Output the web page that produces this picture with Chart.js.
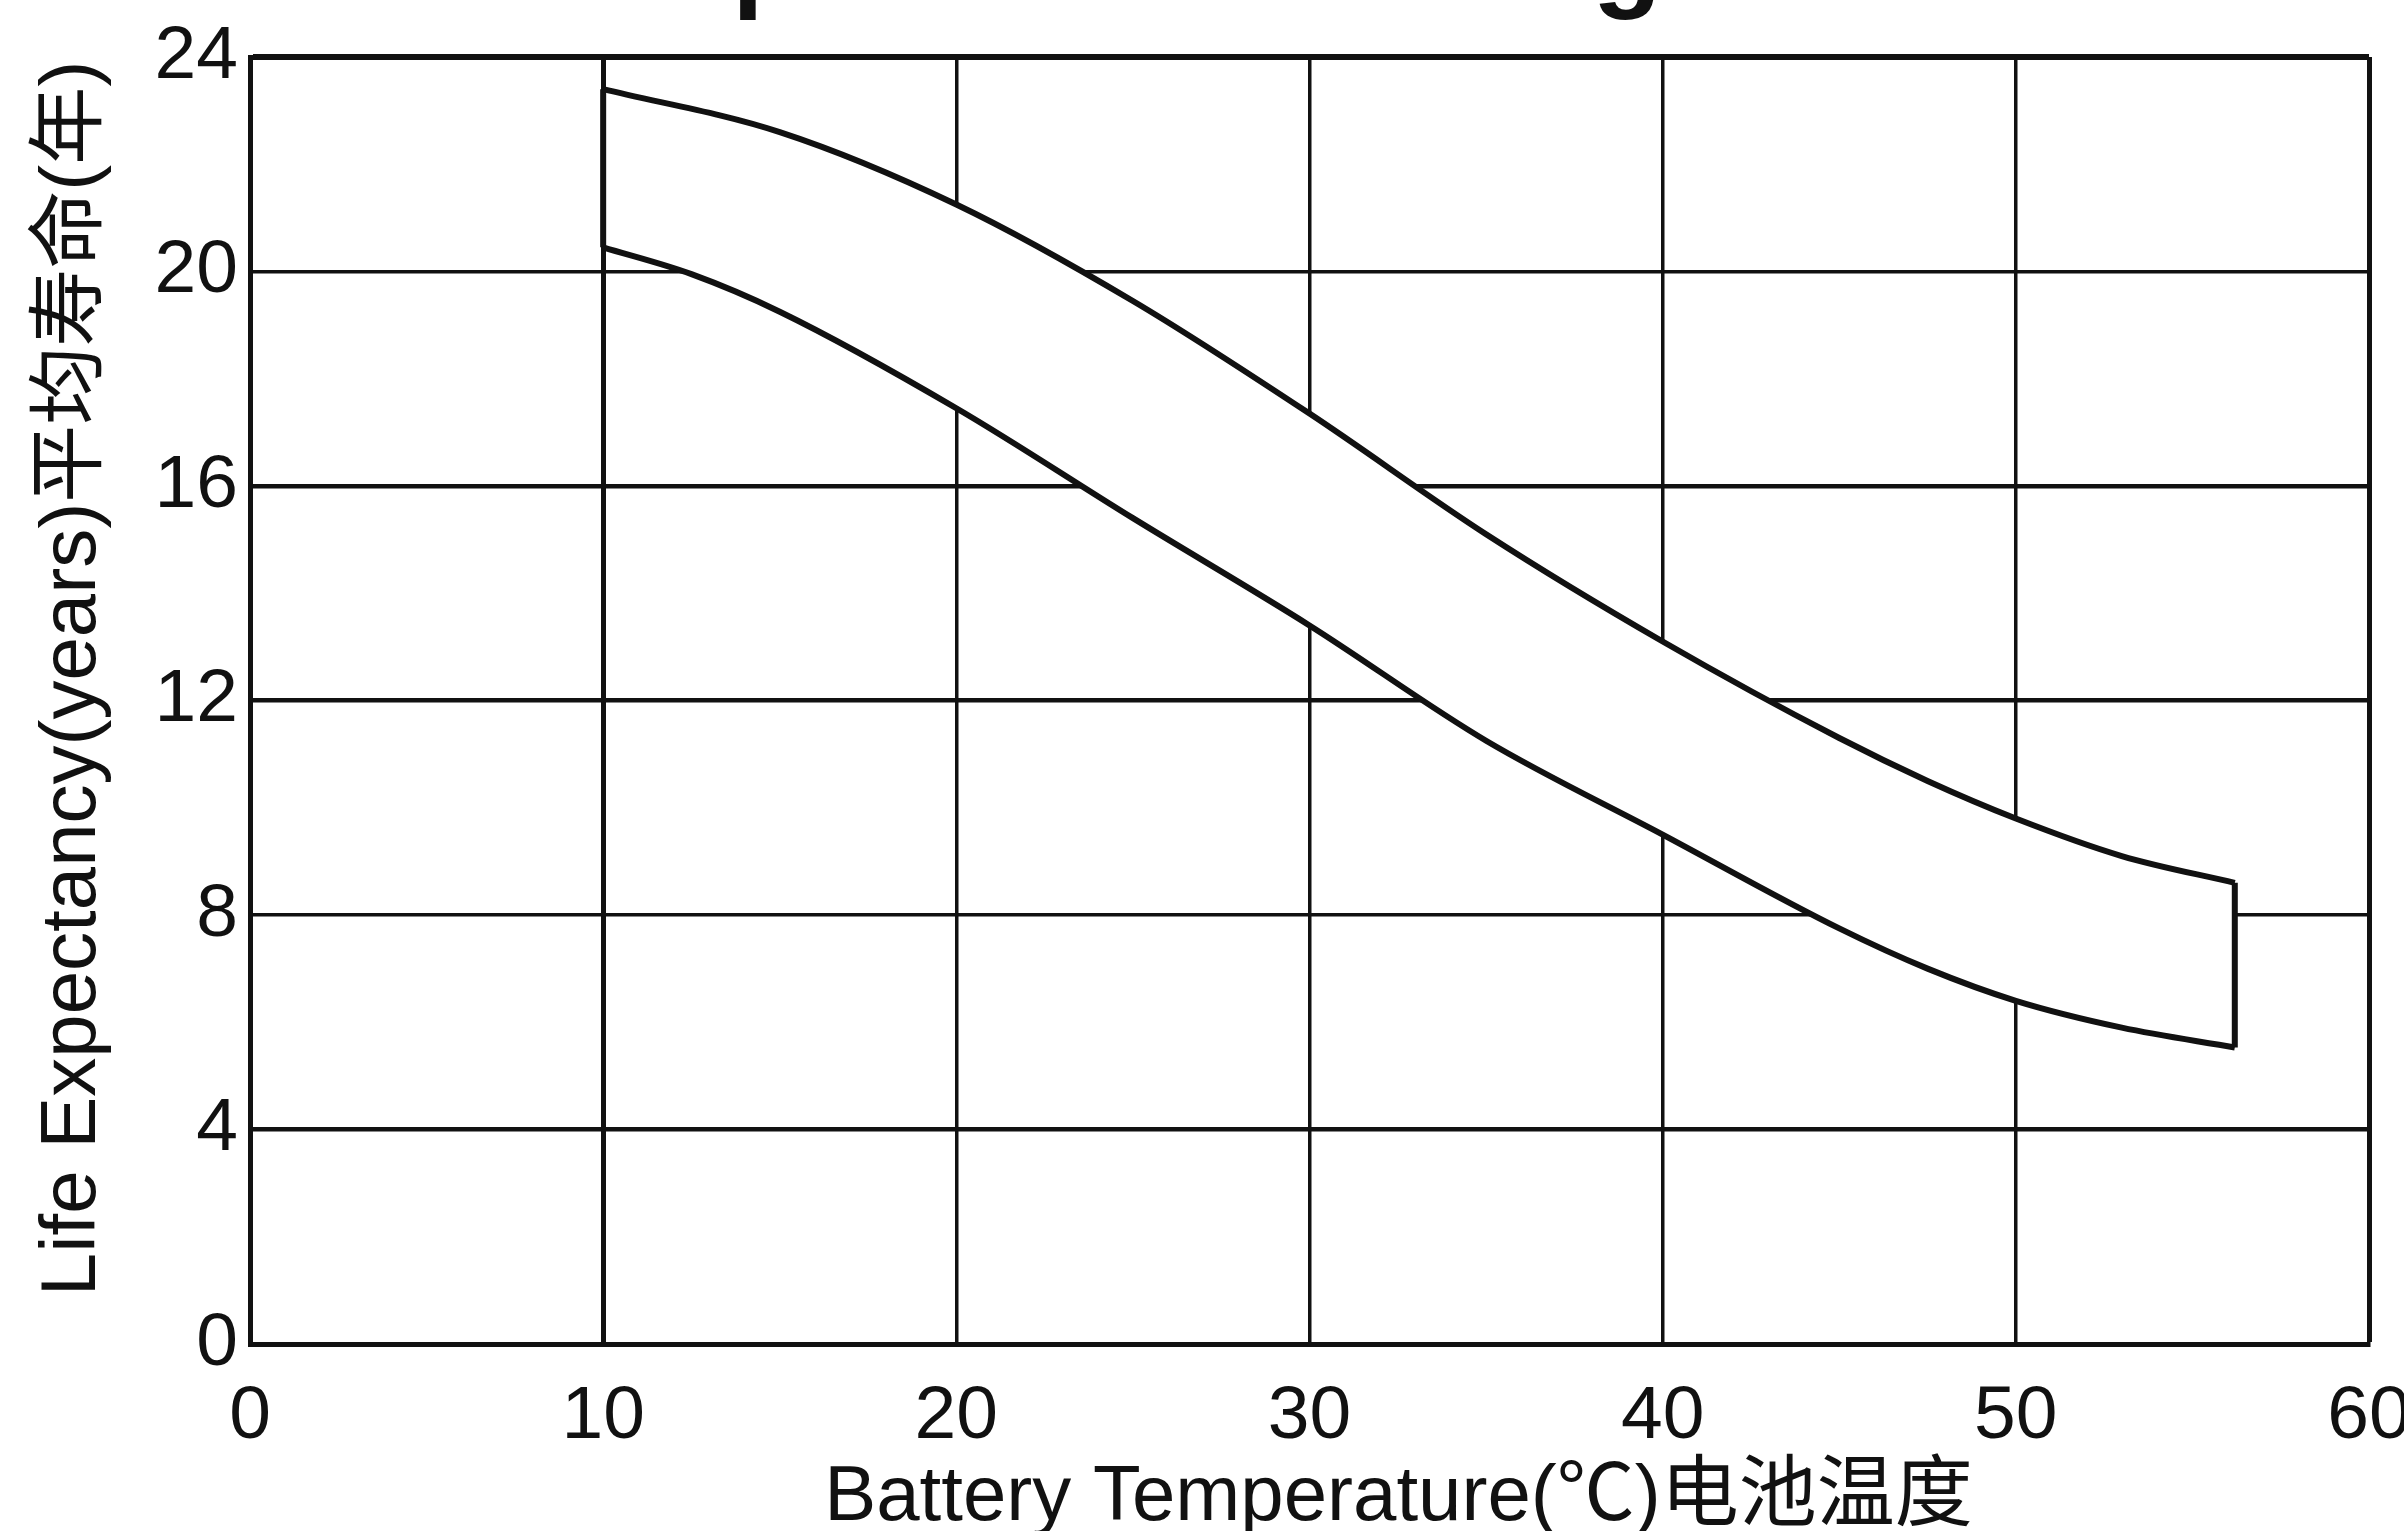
<!DOCTYPE html>
<html>
<head>
<meta charset="utf-8">
<script src="https://cdn.jsdelivr.net/npm/chart.js@4.4.1/dist/chart.umd.min.js"></script>
<style>
  html, body { margin: 0; padding: 0; background: #fff; overflow: hidden; width: 2404px; height: 1531px; }
  #wrap { position: relative; width: 2404px; height: 1531px; overflow: hidden; }
  #chart { position: absolute; left: 0; top: 0; }
  /* title is cut off by the top edge in the original, only descenders show */
  #title { position: absolute; left: 25px; top: -99px; font: bold 113px "Liberation Sans", Arial, sans-serif;
           line-height: 1; white-space: nowrap; color: #111; }
</style>
</head>
<body>
<div id="wrap">
  <canvas id="chart" width="2450" height="1531"></canvas>
  <div id="title">Effect of Temperature on Long Term Life</div>
</div>
<script>
// ticks
const tempTicks = [0, 10, 20, 30, 40, 50, 60];
const lifeTicks = [0, 4, 8, 12, 16, 20, 24];

// upper edge of the band
const upperTemp = [10, 15, 20, 25, 30, 35, 40, 45, 47.5, 50, 53, 56.2];
const upperLife = [23.4, 22.6, 21.25, 19.45, 17.35, 15.1, 13.1, 11.3, 10.5, 9.8, 9.1, 8.6];

// lower edge of the band
const lowerTemp = [10, 12.5, 15, 20, 25, 30, 35, 40, 45, 47.5, 50, 53, 56.2];
const lowerLife = [20.45, 19.95, 19.25, 17.45, 15.4, 13.4, 11.25, 9.5, 7.75, 7.0, 6.4, 5.9, 5.53];

const xTitle = 'Battery Temperature(℃)电池温度';
const yTitle = 'Life Expectancy(years)平均寿命(年)';

const toPts = (xs, ys) => xs.map((x, i) => ({ x: x, y: ys[i] }));
const upperPts = toPts(upperTemp, upperLife);
const lowerPts = toPts(lowerTemp, lowerLife);
const leftCap = [lowerPts[0], upperPts[0]];
const rightCap = [lowerPts[lowerPts.length - 1], upperPts[upperPts.length - 1]];

const FONT = '"Liberation Sans", Arial, "Noto Sans CJK SC", sans-serif';

const lineStyle = {
  borderColor: '#111', borderWidth: 6, pointRadius: 0,
  cubicInterpolationMode: 'monotone', fill: false
};

// axis titles sit off-centre in the original, so draw them by hand
const axisTitles = {
  id: 'axisTitles',
  afterDraw(chart) {
    const ctx = chart.ctx;
    const a = chart.chartArea;
    ctx.save();
    ctx.fillStyle = '#111';
    ctx.font = '78px ' + FONT;
    ctx.textAlign = 'center';
    ctx.textBaseline = 'alphabetic';
    ctx.fillText(xTitle, (a.left + a.right) / 2 + 89, 1520);
    ctx.translate(95, (a.top + a.bottom) / 2 - 22);
    ctx.rotate(-Math.PI / 2);
    ctx.fillText(yTitle, 0, 0);
    ctx.restore();
  }
};

new Chart(document.getElementById('chart'), {
  type: 'line',
  data: {
    datasets: [
      Object.assign({ label: 'upper', data: upperPts }, lineStyle, { fill: '+1', backgroundColor: '#fff' }),
      Object.assign({ label: 'lower', data: lowerPts }, lineStyle),
      Object.assign({ label: 'capL', data: leftCap }, lineStyle, { cubicInterpolationMode: 'default', tension: 0 }),
      Object.assign({ label: 'capR', data: rightCap }, lineStyle, { cubicInterpolationMode: 'default', tension: 0 })
    ]
  },
  options: {
    responsive: false, animation: false, devicePixelRatio: 1,
    layout: { padding: { top: 55, right: 81, left: 0, bottom: 0 } },
    plugins: {
      legend: { display: false }, tooltip: { enabled: false }, title: { display: false },
      filler: { drawTime: 'beforeDatasetsDraw' }   // white band under all lines, over the grid
    },
    scales: {
      x: {
        type: 'linear', min: 0, max: 60,
        afterBuildTicks: s => { s.ticks = tempTicks.map(v => ({ value: v })); },
        afterFit: s => { s.height = 187; },
        grid: {
          color: '#111', drawTicks: false,
          lineWidth: c => (c.tick && (c.tick.value === 60 || c.tick.value === 10)) ? 5 : 3.5
        },
        border: { display: true, color: '#111', width: 5 },
        ticks: { color: '#111', padding: 28, maxRotation: 0, font: { family: FONT, size: 75 } }
      },
      y: {
        type: 'linear', min: 0, max: 24,
        afterBuildTicks: s => { s.ticks = lifeTicks.map(v => ({ value: v })); },
        afterFit: s => { s.width = 250; },
        grid: {
          color: '#111', drawTicks: false,
          lineWidth: c => {
            const v = c.tick ? c.tick.value : null;
            if (v === 24) return 6;
            if (v === 16 || v === 12 || v === 4) return 4.5;
            return 3.5;
          }
        },
        border: { display: true, color: '#111', width: 5 },
        ticks: { color: '#111', padding: 12, font: { family: FONT, size: 75 } }
      }
    }
  },
  plugins: [axisTitles]
});
</script>
</body>
</html>
